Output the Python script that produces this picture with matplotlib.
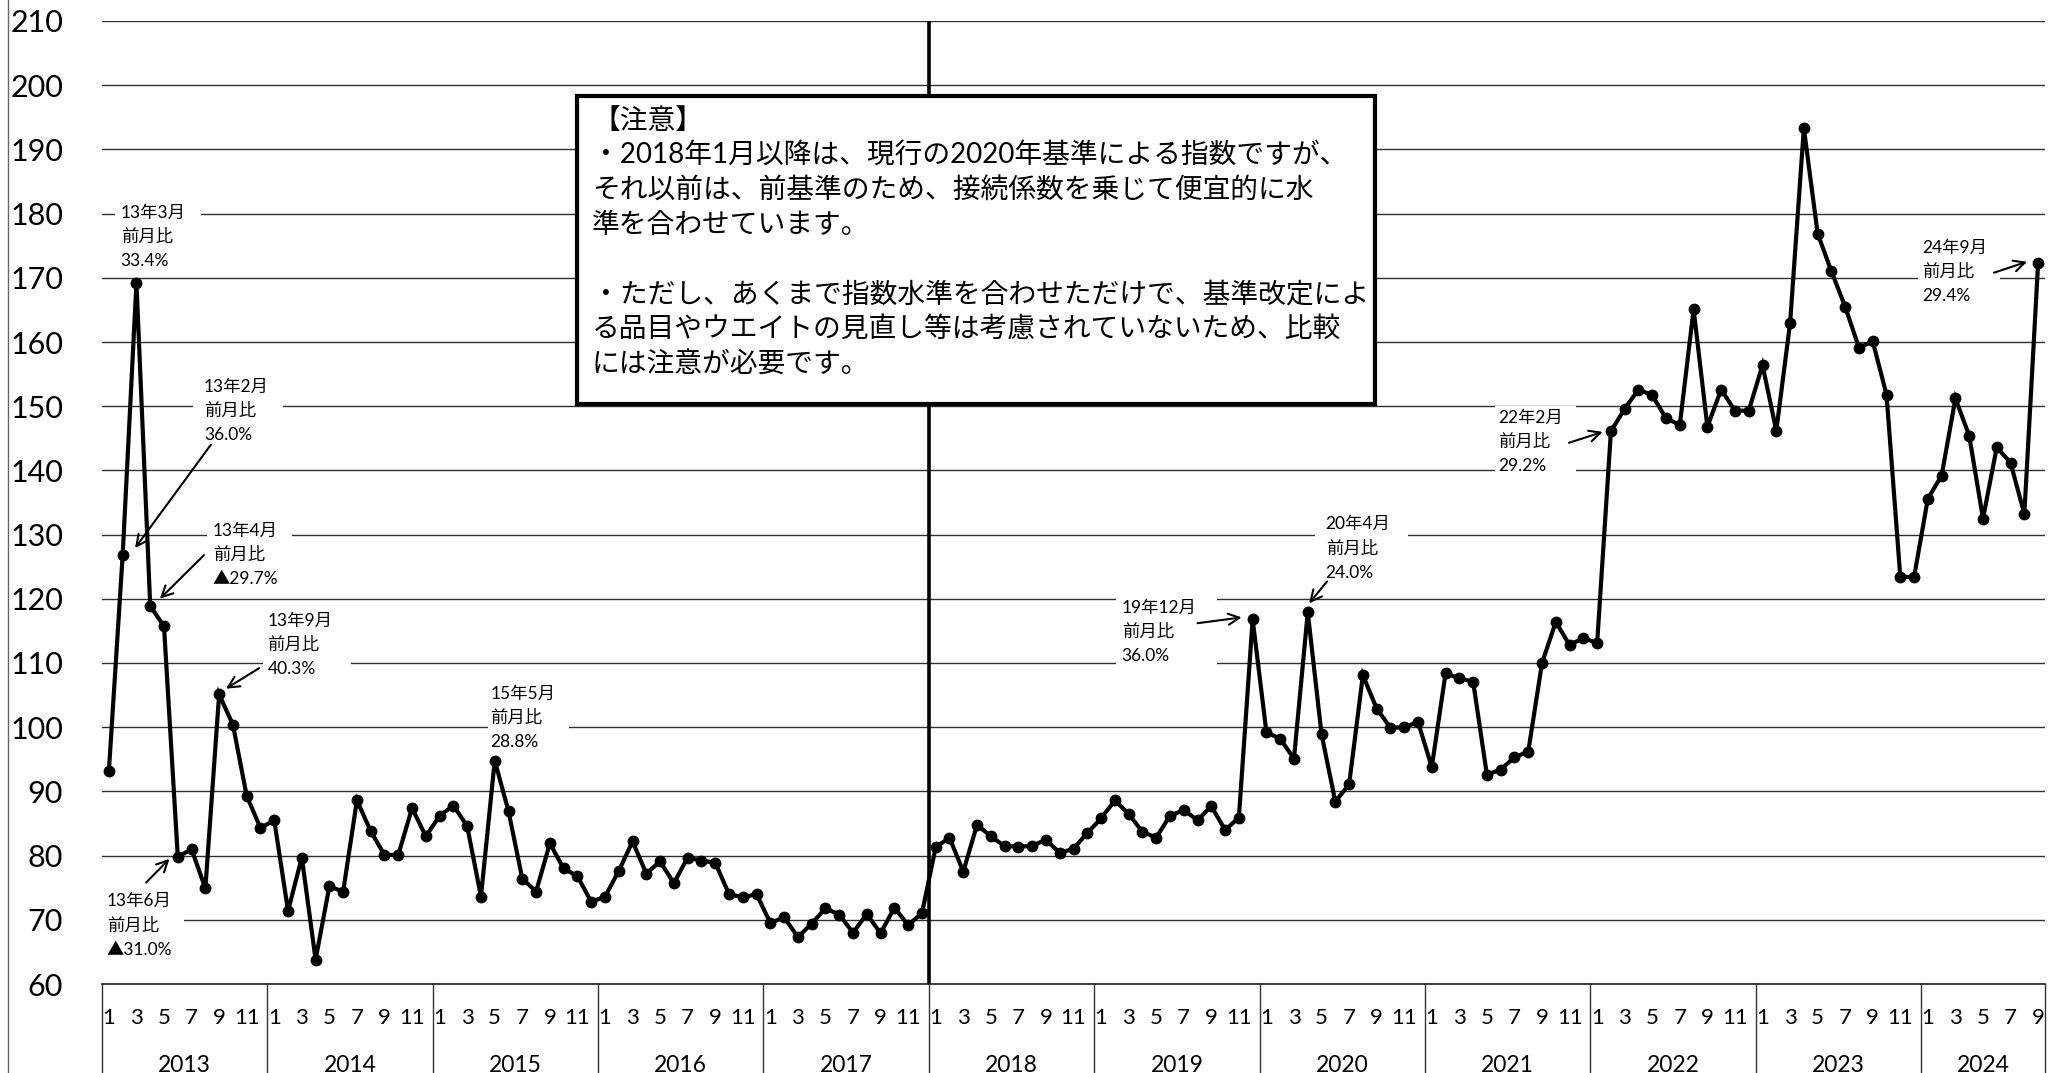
import matplotlib
matplotlib.use("Agg")
import matplotlib.pyplot as plt
import matplotlib.transforms as mtransforms
from matplotlib.patches import Rectangle
from matplotlib.lines import Line2D

# ---------------- data ----------------
years = [2013, 2014, 2015, 2016, 2017, 2018, 2019, 2020, 2021, 2022, 2023, 2024]
v2013 = [93.2, 126.8, 169.2, 118.9, 115.7, 79.8, 81.0, 74.9, 105.1, 100.4, 89.3, 84.3]
v2014 = [85.5, 71.4, 79.7, 63.8, 75.2, 74.4, 88.6, 83.8, 80.1, 80.1, 87.4, 83.0]
v2015 = [86.2, 87.8, 84.6, 73.6, 94.8, 86.9, 76.4, 74.4, 81.9, 78.0, 76.8, 72.8]
v2016 = [73.6, 77.6, 82.2, 77.2, 79.1, 75.7, 79.7, 79.2, 78.9, 74.0, 73.5, 74.0]
v2017 = [69.5, 70.4, 67.3, 69.4, 71.8, 70.8, 68.0, 70.9, 67.9, 71.9, 69.2, 71.0]
v2018 = [81.3, 82.8, 77.5, 84.8, 83.0, 81.5, 81.4, 81.5, 82.5, 80.4, 81.1, 83.5]
v2019 = [85.8, 88.6, 86.5, 83.7, 82.8, 86.2, 87.1, 85.5, 87.7, 84.0, 85.9, 116.8]
v2020 = [99.2, 98.2, 95.1, 117.9, 98.9, 88.4, 91.1, 108.1, 102.9, 99.9, 100.0, 100.8]
v2021 = [93.8, 108.4, 107.6, 107.1, 92.6, 93.4, 95.3, 96.2, 110.0, 116.4, 112.8, 113.9]
v2022 = [113.1, 146.1, 149.6, 152.6, 151.7, 148.1, 147.1, 165.1, 146.8, 152.6, 149.3, 149.3]
v2023 = [156.4, 146.2, 162.9, 193.3, 176.9, 171.0, 165.5, 159.1, 160.1, 151.8, 123.4, 123.4]
v2024 = [135.6, 139.2, 151.2, 145.4, 132.5, 143.6, 141.2, 133.2, 172.3]
month_tick_labels = ["1", "3", "5", "7", "9", "11"]
yticks = list(range(60, 211, 10))

note_lines = [
    "【注意】",
    "・2018年1月以降は、現行の2020年基準による指数ですが、",
    "それ以前は、前基準のため、接続係数を乗じて便宜的に水",
    "準を合わせています。",
    "",
    "・ただし、あくまで指数水準を合わせただけで、基準改定によ",
    "る品目やウエイトの見直し等は考慮されていないため、比較",
    "には注意が必要です。",
]

callout_texts = [
    ("13年3月", "前月比", "33.4%"),
    ("13年2月", "前月比", "36.0%"),
    ("13年4月", "前月比", "▲29.7%"),
    ("13年9月", "前月比", "40.3%"),
    ("13年6月", "前月比", "▲31.0%"),
    ("15年5月", "前月比", "28.8%"),
    ("19年12月", "前月比", "36.0%"),
    ("20年4月", "前月比", "24.0%"),
    ("22年2月", "前月比", "29.2%"),
    ("24年9月", "前月比", "29.4%"),
]

series = [v2013, v2014, v2015, v2016, v2017, v2018, v2019, v2020,
          v2021, v2022, v2023, v2024]
values = [v for ys in series for v in ys]
n = len(values)
xs = list(range(n))

# ---------------- layout / style ----------------
FONT = ["Lato", "Noto Sans CJK JP", "DejaVu Sans"]
plt.rcParams["font.family"] = FONT

W, H = 2063, 1073
fig = plt.figure(figsize=(W / 100, H / 100), dpi=100)
fig.patch.set_facecolor("white")
ax_l, ax_r, ax_t, ax_b = 102, 2045, 21, 984
ax = fig.add_axes([ax_l / W, 1 - ax_b / H, (ax_r - ax_l) / W, (ax_b - ax_t) / H])
ax.set_xlim(-0.5, n - 0.5)
ax.set_ylim(60, 210)
ax.set_yticks(yticks)
ax.set_yticklabels([str(t) for t in yticks])
ax.tick_params(axis="y", length=0, pad=28, labelsize=22)
ax.set_xticks([])
for s in ["left", "right", "top"]:
    ax.spines[s].set_visible(False)
ax.spines["bottom"].set_linewidth(1.2)
ax.spines["bottom"].set_color("#222222")
ax.grid(axis="y", color="#303030", lw=1.0)
ax.set_axisbelow(True)

# figure left border
fig.add_artist(Line2D([8 / W, 8 / W], [0, 1], transform=fig.transFigure,
                      color="#666666", lw=1.0))

# x axis table (months / years)
trans = mtransforms.blended_transform_factory(ax.transData, ax.transAxes)
y_month = -(1018 - ax_b) / (ax_b - ax_t)
y_year = -(1066 - ax_b) / (ax_b - ax_t)
start = 0
for yr, ys in zip(years, series):
    cnt = len(ys)
    for lab in month_tick_labels:
        m = int(lab)
        if m <= cnt:
            ax.text(start + m - 1, y_month, lab, transform=trans, ha="center",
                    va="center", fontsize=16, clip_on=False)
    ax.text(start + (cnt - 1) / 2, y_year, str(yr), transform=trans,
            ha="center", va="center", fontsize=16.5, clip_on=False)
    ax.plot([start - 0.5, start - 0.5], [0, -0.2], transform=trans,
            color="#333333", lw=1.0, clip_on=False)
    start += cnt
ax.plot([start - 0.5, start - 0.5], [0, -0.2], transform=trans,
        color="#333333", lw=1.0, clip_on=False)

# base-change divider (between Dec 2017 and Jan 2018)
base_idx = years.index(2018) * 12
ax.axvline(base_idx - 0.45, color="black", lw=2.6, zorder=2)

# note box
ax.add_patch(Rectangle((33.97, 150.3), 91.88 - 33.97, 198.3 - 150.3,
                       facecolor="white", edgecolor="black", lw=3.0, zorder=5))
note_y0, note_dy = 194.42, 5.39
for i, line in enumerate(note_lines):
    if line:
        ax.text(35.06, note_y0 - i * note_dy, line, ha="left", va="center",
                fontsize=20, zorder=6)

# callouts: (text-left x, first-line center y, white gap x0, x1, arrow tail, arrow head)
callout_pos = [
    (0.86, 180.1, 0.47, 6.68, None, None),
    (6.9, 153.0, 6.1, 12.6, (7.4, 144.0), (1.9, 127.9)),
    (7.55, 130.6, 7.1, 13.3, (6.9, 126.8), (3.7, 120.0)),
    (11.5, 116.6, 11.2, 17.6, (10.9, 109.2), (8.5, 106.0)),
    (-0.15, 72.9, -0.5, 5.45, (2.7, 75.8), (4.4, 79.5)),
    (27.7, 105.2, 27.5, 33.4, None, None),
    (73.5, 118.6, 73.1, 80.4, (79.0, 116.2), (82.2, 117.1)),
    (88.3, 131.6, 87.5, 94.3, (88.4, 122.7), (87.1, 119.3)),
    (100.8, 148.2, 100.6, 106.5, (105.96, 144.3), (108.4, 146.0)),
    (131.6, 174.7, 131.3, 137.2, (136.8, 170.8), (139.2, 172.5)),
]
line_dy = 3.77
for texts, (tx, ty, gx0, gx1, tail, head) in zip(callout_texts, callout_pos):
    top = ty + 1.9
    bot = ty - 2 * line_dy - 1.9
    ax.add_patch(Rectangle((gx0, bot), gx1 - gx0, top - bot, facecolor="white",
                           edgecolor="none", zorder=1.5))
    for k, t in enumerate(texts):
        ax.text(tx, ty - k * line_dy, t, ha="left", va="center",
                fontsize=12.5, zorder=7)
    if tail is not None:
        ax.annotate("", xy=head, xytext=tail,
                    arrowprops=dict(arrowstyle="->", color="black", lw=1.5,
                                    mutation_scale=20, shrinkA=0, shrinkB=0),
                    zorder=7)

# data line
ax.plot(xs, values, color="black", lw=3.0, marker="o", ms=7.5, zorder=4,
        solid_joinstyle="miter")

fig.savefig("out.png", dpi=100, facecolor="white")
